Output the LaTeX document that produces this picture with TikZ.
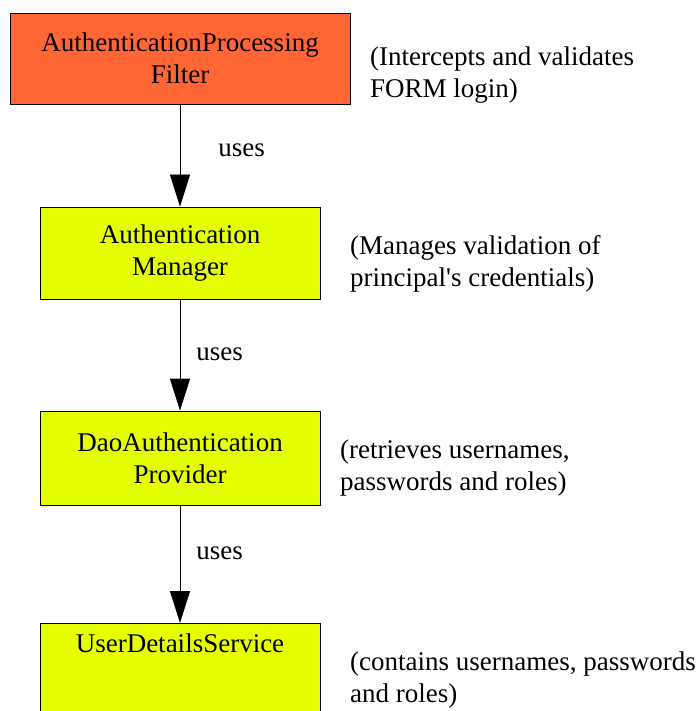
\documentclass[tikz,border=0pt]{standalone}
\usepackage{fontspec}
\setmainfont{Liberation Serif}
\newfontfamily\diagfont{Liberation Serif}
\usepackage{tikz}
\usetikzlibrary{arrows.meta, positioning}
\definecolor{filterorange}{RGB}{255,102,51}
\definecolor{beanyellow}{RGB}{230,255,0}
\tikzset{
    filterbox/.style={draw, rectangle, inner sep=0pt, align=center, fill=filterorange, line width=0.8pt, font=\diagfont\fontsize{27}{32}\selectfont},
    beanbox/.style={draw, rectangle, inner sep=0pt, align=center, fill=beanyellow, line width=0.8pt, font=\diagfont\fontsize{27}{32}\selectfont},
    note/.style={anchor=west, align=left, inner sep=0pt, font=\diagfont\fontsize{27}{32}\selectfont},
    uses/.style={-{Triangle[width=20pt,length=32pt]}, line width=0.8pt},
    useslbl/.style={inner sep=0pt, font=\diagfont\fontsize{27}{32}\selectfont}
}

\begin{document}
\begin{tikzpicture}[x=1pt, y=-1pt]

        % -----------------------------------------------------------------
        % AREA
        % -----------------------------------------------------------------
        \useasboundingbox (0,0) rectangle (700,711);

        % Filtro di ingresso
        \node (filter) [filterbox, minimum width=340, minimum height=91] at (180,58.5) {AuthenticationProcessing\\Filter};
        \node (filter_note) [note] at (370,75) {(Intercepts and validates\\FORM login)};

        % Manager
        \node (manager) [beanbox, minimum width=280, minimum height=92] at (180,253) {Authentication\\Manager};
        \node (manager_note) [note] at (350,264) {(Manages validation of\\principal\textquotesingle s credentials)};

        % Provider
        \node (provider) [beanbox, minimum width=280, minimum height=94] at (180,458) {DaoAuthentication\\Provider};
        \node (provider_note) [note] at (340,468) {(retrieves usernames,\\passwords and roles)};

        % Servizio utenti (tagliato in basso)
        \node (uds) [beanbox, anchor=north, minimum width=280, text height=20pt, text depth=70pt, inner ysep=9pt] at (180,623) {UserDetailsService};
        \node (uds_note) [note] at (350,680) {(contains usernames, passwords\\and roles)};

        % -----------------------------------------------------------------
        % CONNESSIONI
        % -----------------------------------------------------------------
        \draw[uses] (filter) -- node[useslbl, right=38pt, pos=0.45] {uses} (manager);
        \draw[uses] (manager) -- node[useslbl, right=16pt, pos=0.49] {uses} (provider);
        \draw[uses] (provider) -- node[useslbl, right=16pt, pos=0.41] {uses} (uds);

\end{tikzpicture}
\end{document}
